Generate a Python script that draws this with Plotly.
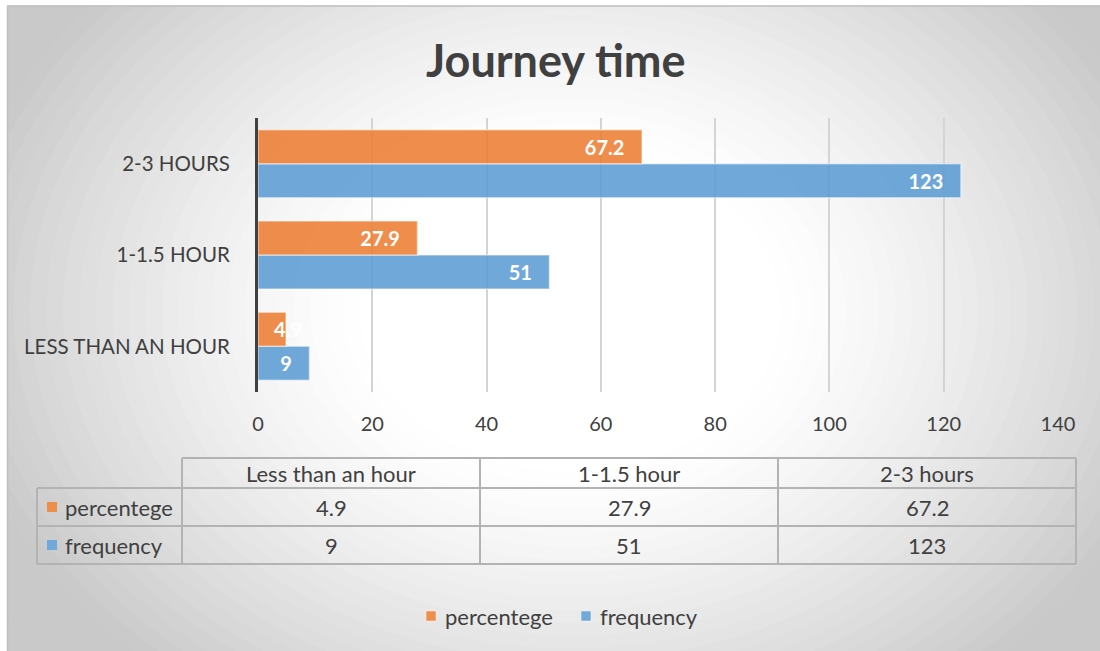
import plotly.graph_objects as go

# ---- data -------------------------------------------------------------
categories = ["Less than an hour", "1-1.5 hour", "2-3 hours"]
percentege = [4.9, 27.9, 67.2]
frequency = [9, 51, 123]
x_ticks = [0, 20, 40, 60, 80, 100, 120, 140]
title_text = "Journey time"

# ---- layout geometry (pixels) -----------------------------------------
W, H = 1100, 651
L, R, T, B = 258, 1058, 118, 392          # plot area
X_MAX = 140
BARGAP = 0.255

FONT = "Lato"
TEXT = "#404040"
ORANGE = "rgba(237,125,49,0.87)"
BLUE = "rgba(91,155,213,0.87)"
ORANGE_SOLID = "#EE8E4C"
BLUE_SOLID = "#70A8DA"
BAR_EDGE = "rgba(255,255,255,0.45)"
TABLE_LINE = "#b3b3b3"


def px(xp):
    """pixel x -> paper x"""
    return (xp - L) / (R - L)


def py(yp):
    """pixel y -> paper y"""
    return (B - yp) / (B - T)


unit_px = (R - L) / X_MAX
cat_px = (B - T) / len(categories)
bar_px = (1 - BARGAP) / 2 * cat_px


def label_fits(v):
    return v * unit_px > len(str(v)) * 11 + 14


label_tpl = "%{x}\u00a0\u00a0\u00a0"

fig = go.Figure()

# horizontal grouped bars; first trace sits lowest in each group
for name, vals, color in [("frequency", frequency, BLUE),
                          ("percentege", percentege, ORANGE)]:
    fig.add_trace(go.Bar(
        name=name, y=categories, x=vals, orientation="h",
        marker=dict(color=color, line=dict(color=BAR_EDGE, width=1.5)),
        texttemplate=label_tpl,
        textposition=["inside" if label_fits(v) else "none" for v in vals],
        insidetextanchor="end", constraintext="none", textangle=0,
        insidetextfont=dict(family=FONT, size=20, color="white", weight=700),
        showlegend=False, hoverinfo="skip",
    ))

annotations = []
shapes = []

# labels for bars too short to hold their value: start just past the axis
for name, vals, shift in [("frequency", frequency, -bar_px / 2),
                          ("percentege", percentege, bar_px / 2)]:
    for c, v in zip(categories, vals):
        if not label_fits(v):
            annotations.append(dict(
                x=0, y=c, xref="x", yref="y", text=str(v), showarrow=False,
                xanchor="left", yanchor="middle", xshift=14, yshift=shift,
                font=dict(family=FONT, size=20, color="white", weight=700)))

# ---- radial background gradient ---------------------------------------
cx, cy, rx, ry = 570, 310, 600, 460
steps = 40
for i in range(steps + 1):
    r = 1.45 - i * (1.45 - 0.35) / steps
    t = min(max((r - 0.35) / 0.7, 0.0), 1.0) ** 1.3
    g = int(round(255 - 54 * t))
    shapes.append(dict(
        type="circle", xref="paper", yref="paper", layer="below",
        x0=px(cx - r * rx), x1=px(cx + r * rx),
        y0=py(cy + r * ry), y1=py(cy - r * ry),
        fillcolor=f"rgb({g},{g},{g})", line=dict(width=0)))

# white margin outside the chart frame, then the frame edges
shapes.append(dict(type="rect", xref="paper", yref="paper", layer="below",
                   x0=px(-50), x1=px(7), y0=py(H + 50), y1=py(-50),
                   fillcolor="white", line=dict(width=0)))
shapes.append(dict(type="rect", xref="paper", yref="paper", layer="below",
                   x0=px(-50), x1=px(W + 50), y0=py(5.5), y1=py(-50),
                   fillcolor="white", line=dict(width=0)))
shapes.append(dict(type="line", xref="paper", yref="paper", layer="below",
                   x0=px(7), x1=px(W + 10), y0=py(6), y1=py(6),
                   line=dict(color="#bfbfbf", width=1.5)))
shapes.append(dict(type="line", xref="paper", yref="paper", layer="below",
                   x0=px(7.5), x1=px(7.5), y0=py(6), y1=py(H + 10),
                   line=dict(color="#bfbfbf", width=1.5)))

# ---- data table under the axis ----------------------------------------
col_x = [37, 182, 480, 778, 1076]
row_y = [458, 488, 526, 564]


def hline(x0, x1, y):
    shapes.append(dict(type="line", xref="paper", yref="paper",
                       x0=px(x0), x1=px(x1), y0=py(y), y1=py(y),
                       line=dict(color=TABLE_LINE, width=2)))


def vline(x, y0, y1):
    shapes.append(dict(type="line", xref="paper", yref="paper",
                       x0=px(x), x1=px(x), y0=py(y0), y1=py(y1),
                       line=dict(color=TABLE_LINE, width=2)))


hline(col_x[1], col_x[-1], row_y[0])
for y in row_y[1:]:
    hline(col_x[0], col_x[-1], y)
vline(col_x[0], row_y[1], row_y[-1])
for x in col_x[1:]:
    vline(x, row_y[0], row_y[-1])

tfont = dict(family=FONT, size=22, color=TEXT)
for j, c in enumerate(categories):
    xc = (col_x[j + 1] + col_x[j + 2]) / 2
    annotations.append(dict(x=px(xc), y=py((row_y[0] + row_y[1]) / 2),
                            xref="paper", yref="paper", text=c,
                            showarrow=False, font=tfont,
                            xanchor="center", yanchor="middle"))
    for k, vals in enumerate([percentege, frequency]):
        yc = (row_y[k + 1] + row_y[k + 2]) / 2
        annotations.append(dict(x=px(xc), y=py(yc), xref="paper",
                                yref="paper", text=str(vals[j]),
                                showarrow=False, font=tfont,
                                xanchor="center", yanchor="middle"))

series_keys = [("percentege", ORANGE_SOLID), ("frequency", BLUE_SOLID)]
for k, (name, sw) in enumerate(series_keys):
    yc = (row_y[k + 1] + row_y[k + 2]) / 2
    shapes.append(dict(type="rect", xref="paper", yref="paper",
                       x0=px(47), x1=px(57), y0=py(yc + 5), y1=py(yc - 5),
                       fillcolor=sw, line=dict(width=0)))
    annotations.append(dict(x=px(63), y=py(yc), xref="paper", yref="paper",
                            text=name, showarrow=False, font=tfont,
                            xanchor="left", yanchor="middle"))

# ---- legend along the bottom -------------------------------------------
legend_y = 616
for (name, sw), x0 in zip(series_keys, [426, 581]):
    shapes.append(dict(type="rect", xref="paper", yref="paper",
                       x0=px(x0), x1=px(x0 + 10),
                       y0=py(legend_y + 5), y1=py(legend_y - 5),
                       fillcolor=sw, line=dict(color=BAR_EDGE, width=1)))
    annotations.append(dict(x=px(x0 + 17), y=py(legend_y), xref="paper",
                            yref="paper", text=name, showarrow=False,
                            font=tfont, xanchor="left", yanchor="middle"))

# ---- title --------------------------------------------------------------
annotations.append(dict(x=px(556), y=py(60), xref="paper", yref="paper",
                        text=title_text, showarrow=False,
                        xanchor="center", yanchor="middle",
                        font=dict(family=FONT, size=45, color=TEXT,
                                  weight=700)))

fig.update_layout(
    width=W, height=H,
    margin=dict(l=L, r=W - R, t=T, b=H - B, pad=0),
    paper_bgcolor="white", plot_bgcolor="rgba(0,0,0,0)",
    barmode="group", bargap=BARGAP, bargroupgap=0,
    font=dict(family=FONT, size=20, color=TEXT),
    showlegend=False,
    xaxis=dict(range=[0, X_MAX], tickvals=x_ticks, showgrid=True,
               gridcolor="#d4d4d4", gridwidth=1.5, zeroline=False,
               showline=False, ticks="outside", ticklen=14,
               tickcolor="rgba(0,0,0,0)",
               tickfont=dict(family=FONT, size=20, color=TEXT)),
    yaxis=dict(type="category", categoryorder="array",
               categoryarray=categories, tickvals=categories,
               ticktext=[c.upper() for c in categories],
               showgrid=False, zeroline=False, showline=True,
               linecolor="#404040", linewidth=3, layer="above traces",
               ticks="outside", ticklen=21, tickcolor="rgba(0,0,0,0)",
               tickfont=dict(family=FONT, size=20.5, color=TEXT)),
    shapes=shapes, annotations=annotations,
)

fig.write_html("out.html")
